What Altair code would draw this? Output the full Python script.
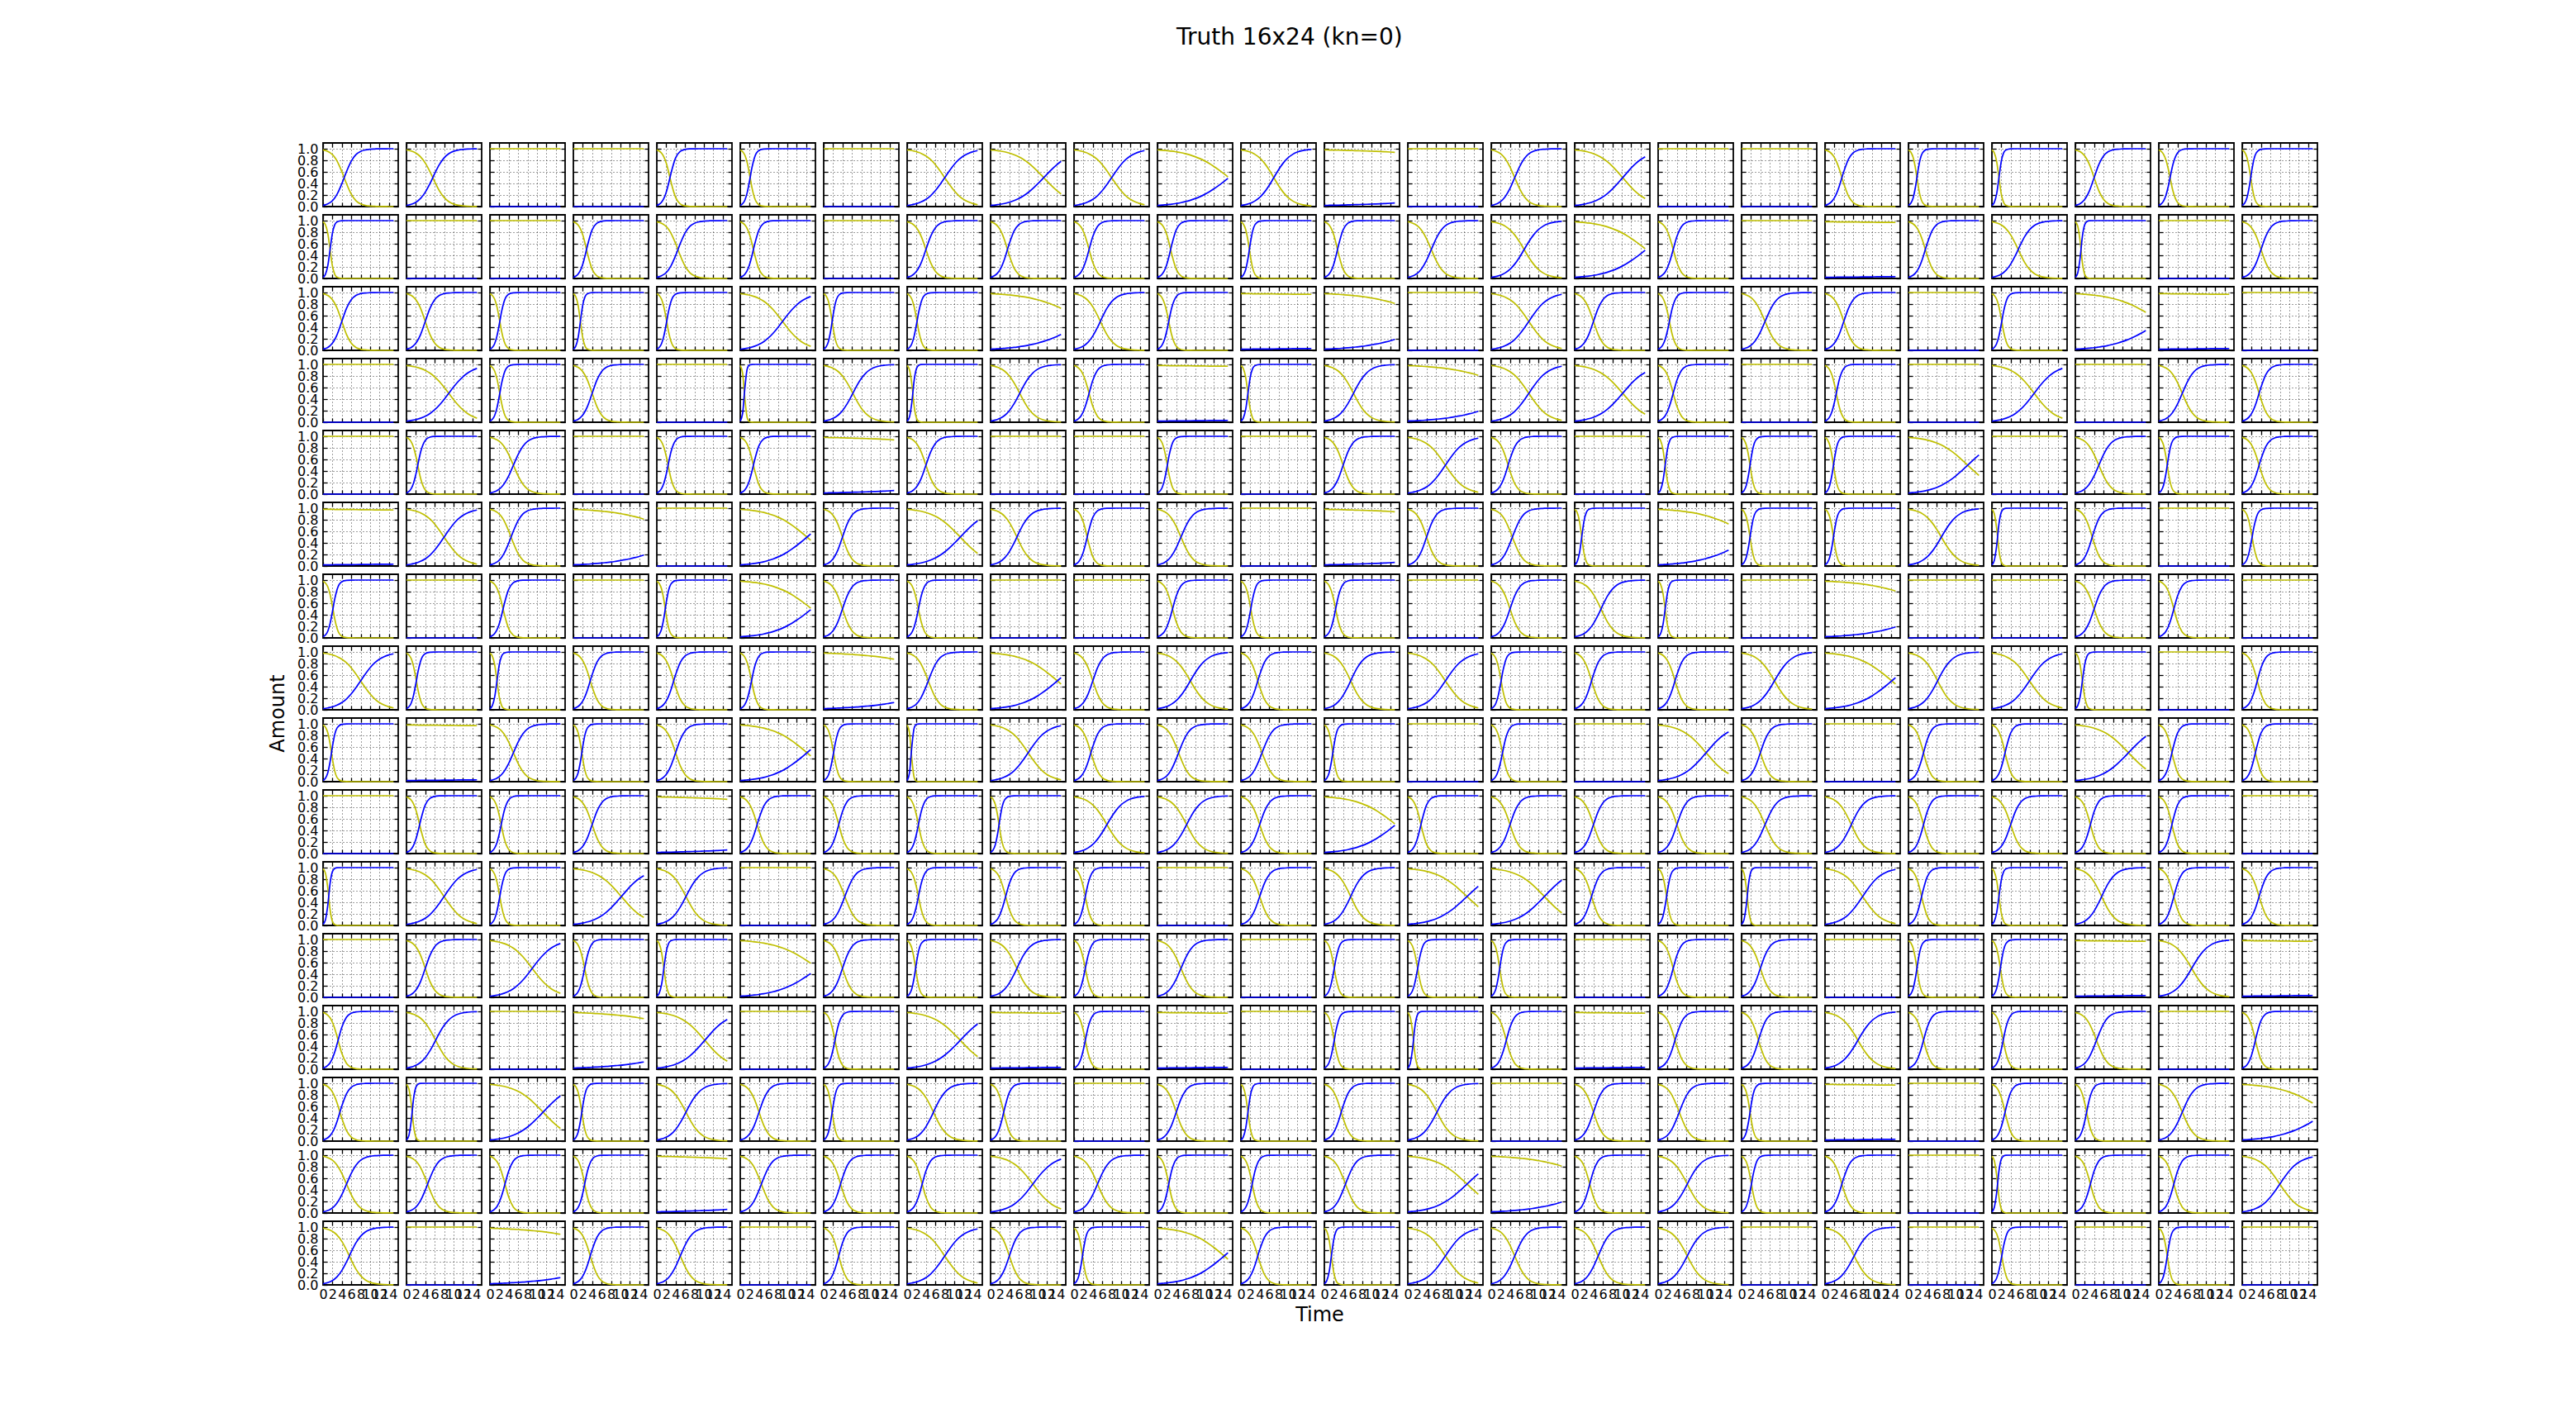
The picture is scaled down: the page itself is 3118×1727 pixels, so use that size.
import altair as alt
import pandas as pd

TITLE = "Truth 16x24 (kn=0)"
X_TITLE = "Time"
Y_TITLE = "Amount"
TIME = [0, 0.5, 1, 1.5, 2, 2.5, 3, 4, 5, 6, 7, 8, 9, 10, 11, 12, 13, 14, 15]
X_TICKS = [0, 2, 4, 6, 8, 10, 12, 14]
Y_TICKS = [0.0, 0.2, 0.4, 0.6, 0.8, 1.0]

# Blue (infected) curves, one per take-off time (time where blue crosses 0.5).
CURVES = {
    0: [0, 0, 0, 0, 0, 0, 0, 0, 0, 0, 0, 0, 0, 0, 0, 0, 0, 0, 0],
    0.9: [0.020, 0.151, 0.606, 0.930, 0.992, 0.999, 1, 1, 1, 1, 1, 1, 1, 1, 1, 1, 1, 1, 1],
    1.2: [0.020, 0.094, 0.343, 0.726, 0.930, 0.986, 0.997, 1, 1, 1, 1, 1, 1, 1, 1, 1, 1, 1, 1],
    1.5: [0.020, 0.069, 0.215, 0.500, 0.785, 0.930, 0.980, 0.999, 1, 1, 1, 1, 1, 1, 1, 1, 1, 1, 1],
    1.8: [0.020, 0.057, 0.151, 0.343, 0.606, 0.820, 0.930, 0.992, 0.999, 1, 1, 1, 1, 1, 1, 1, 1, 1, 1],
    2.1: [0.020, 0.049, 0.115, 0.248, 0.454, 0.677, 0.841, 0.971, 0.995, 0.999, 1, 1, 1, 1, 1, 1, 1, 1, 1],
    2.4: [0.020, 0.044, 0.094, 0.189, 0.343, 0.540, 0.726, 0.930, 0.986, 0.997, 0.999, 1, 1, 1, 1, 1, 1, 1, 1],
    2.8: [0.020, 0.039, 0.076, 0.141, 0.248, 0.397, 0.569, 0.841, 0.955, 0.988, 0.997, 0.999, 1, 1, 1, 1, 1, 1, 1],
    3.2: [0.020, 0.036, 0.065, 0.112, 0.189, 0.299, 0.440, 0.726, 0.899, 0.968, 0.990, 0.997, 0.999, 1, 1, 1, 1, 1, 1],
    3.6: [0.020, 0.034, 0.057, 0.094, 0.151, 0.233, 0.343, 0.606, 0.820, 0.930, 0.975, 0.992, 0.997, 0.999, 1, 1, 1, 1, 1],
    4.0: [0.020, 0.032, 0.051, 0.081, 0.125, 0.189, 0.274, 0.500, 0.726, 0.875, 0.949, 0.980, 0.992, 0.997, 0.999, 1, 1, 1, 1],
    4.5: [0.020, 0.031, 0.046, 0.069, 0.103, 0.151, 0.215, 0.394, 0.606, 0.785, 0.897, 0.954, 0.980, 0.992, 0.996, 0.999, 0.999, 1, 1],
    5.0: [0.020, 0.029, 0.043, 0.062, 0.088, 0.125, 0.174, 0.315, 0.500, 0.685, 0.826, 0.912, 0.957, 0.980, 0.991, 0.996, 0.998, 0.999, 1],
    5.6: [0.020, 0.028, 0.039, 0.055, 0.076, 0.104, 0.141, 0.248, 0.397, 0.569, 0.726, 0.841, 0.914, 0.955, 0.977, 0.988, 0.994, 0.997, 0.999],
    6.2: [0.020, 0.027, 0.037, 0.050, 0.067, 0.089, 0.118, 0.201, 0.320, 0.469, 0.623, 0.756, 0.853, 0.916, 0.953, 0.975, 0.986, 0.993, 0.996],
    7.0: [0.020, 0.026, 0.034, 0.045, 0.058, 0.076, 0.098, 0.159, 0.248, 0.364, 0.500, 0.636, 0.752, 0.841, 0.902, 0.942, 0.966, 0.980, 0.988],
    8.0: [0.020, 0.025, 0.032, 0.041, 0.051, 0.065, 0.081, 0.125, 0.189, 0.274, 0.381, 0.500, 0.619, 0.726, 0.811, 0.875, 0.919, 0.949, 0.968],
    9.0: [0.020, 0.025, 0.031, 0.038, 0.046, 0.057, 0.069, 0.103, 0.151, 0.215, 0.296, 0.394, 0.500, 0.606, 0.704, 0.785, 0.849, 0.897, 0.930],
    10.2: [0.020, 0.024, 0.029, 0.035, 0.042, 0.050, 0.060, 0.086, 0.121, 0.168, 0.228, 0.302, 0.387, 0.481, 0.574, 0.665, 0.744, 0.810, 0.862],
    11.3: [0.020, 0.024, 0.028, 0.033, 0.039, 0.046, 0.054, 0.075, 0.103, 0.139, 0.185, 0.243, 0.312, 0.390, 0.474, 0.560, 0.642, 0.717, 0.782],
    12.6: [0.020, 0.023, 0.027, 0.031, 0.037, 0.042, 0.049, 0.066, 0.087, 0.115, 0.151, 0.195, 0.248, 0.309, 0.379, 0.454, 0.531, 0.606, 0.677],
    14.2: [0.020, 0.023, 0.026, 0.030, 0.034, 0.039, 0.044, 0.058, 0.074, 0.096, 0.122, 0.155, 0.194, 0.240, 0.294, 0.354, 0.418, 0.486, 0.555],
    15.2: [0.020, 0.023, 0.026, 0.029, 0.033, 0.037, 0.042, 0.054, 0.068, 0.087, 0.109, 0.137, 0.170, 0.209, 0.254, 0.306, 0.363, 0.424, 0.487],
    16.5: [0.020, 0.023, 0.025, 0.028, 0.032, 0.036, 0.040, 0.050, 0.062, 0.078, 0.096, 0.119, 0.146, 0.178, 0.215, 0.257, 0.305, 0.357, 0.413],
    18: [0.020, 0.022, 0.025, 0.028, 0.031, 0.034, 0.038, 0.046, 0.057, 0.069, 0.085, 0.103, 0.125, 0.151, 0.180, 0.215, 0.253, 0.296, 0.343],
    20: [0.020, 0.022, 0.024, 0.027, 0.029, 0.032, 0.035, 0.043, 0.051, 0.062, 0.074, 0.088, 0.105, 0.125, 0.148, 0.174, 0.204, 0.237, 0.274],
    24: [0.020, 0.022, 0.023, 0.025, 0.028, 0.030, 0.032, 0.038, 0.044, 0.051, 0.060, 0.069, 0.081, 0.094, 0.108, 0.125, 0.144, 0.165, 0.189],
    30: [0.020, 0.021, 0.023, 0.024, 0.026, 0.028, 0.029, 0.033, 0.038, 0.043, 0.048, 0.055, 0.062, 0.069, 0.078, 0.088, 0.099, 0.112, 0.125],
    50: [0.020, 0.021, 0.022, 0.023, 0.023, 0.024, 0.025, 0.027, 0.029, 0.032, 0.034, 0.037, 0.039, 0.043, 0.046, 0.049, 0.053, 0.057, 0.062],
    120: [0.020, 0.020, 0.021, 0.021, 0.021, 0.022, 0.022, 0.023, 0.024, 0.024, 0.025, 0.026, 0.027, 0.028, 0.029, 0.029, 0.030, 0.031, 0.032],
}

# Which curve each of the 16 x 24 panels shows (0 = no outbreak).
GRID = [
    [4.5, 5.6, 0, 0, 2.8, 2.1, 0, 8.0, 11.3, 8.0, 15.2, 7.0, 50, 0, 5.0, 10.2, 0, 0, 3.6, 1.8, 1.5, 4.0, 2.4, 1.8],
    [1.5, 0, 0, 2.8, 4.5, 2.8, 0, 4.0, 3.6, 3.2, 2.8, 1.8, 2.8, 5.0, 7.0, 15.2, 3.2, 0, 120, 3.6, 5.6, 1.2, 0, 4.0],
    [4.0, 4.0, 2.1, 1.5, 2.1, 9.0, 1.8, 2.1, 20, 5.6, 2.4, 120, 24, 0, 8.0, 4.0, 2.4, 5.0, 4.0, 0, 2.1, 18, 120, 0],
    [0, 9.0, 2.1, 4.0, 0, 0.9, 6.2, 1.2, 6.2, 3.2, 120, 1.5, 6.2, 24, 8.0, 10.2, 3.2, 0, 2.4, 0, 9.0, 0, 5.0, 3.6],
    [0, 2.4, 5.0, 0, 2.4, 2.8, 50, 4.0, 0, 0, 2.1, 0, 4.0, 8.0, 3.6, 0, 1.5, 1.8, 1.8, 12.6, 0, 5.0, 1.8, 3.6],
    [120, 8.0, 4.5, 24, 0, 14.2, 4.0, 11.3, 5.6, 2.8, 5.0, 0, 50, 4.0, 4.5, 1.5, 20, 1.8, 1.8, 7.0, 1.2, 3.6, 0, 2.1],
    [2.1, 0, 2.8, 0, 1.8, 15.2, 4.0, 2.4, 0, 0, 3.2, 2.1, 2.4, 0, 4.0, 5.6, 1.5, 0, 24, 0, 0, 4.0, 3.2, 0],
    [8.0, 2.1, 1.5, 3.6, 3.6, 2.4, 30, 4.5, 14.2, 4.0, 7.0, 3.6, 5.6, 8.0, 2.1, 3.6, 3.6, 7.0, 14.2, 6.2, 8.0, 1.5, 0, 3.2],
    [1.8, 120, 5.0, 1.8, 4.0, 14.2, 2.1, 0.9, 8.0, 3.6, 4.5, 4.5, 1.8, 0, 2.4, 0, 10.2, 4.0, 0, 3.2, 2.8, 11.3, 2.8, 2.8],
    [0, 2.8, 2.4, 4.0, 50, 3.6, 3.2, 2.4, 1.8, 7.0, 6.2, 4.0, 15.2, 2.8, 4.0, 4.0, 4.0, 5.0, 5.6, 3.2, 4.0, 3.2, 2.8, 0],
    [1.2, 8.0, 2.1, 10.2, 6.2, 0, 4.5, 2.4, 3.2, 2.4, 0, 4.0, 5.6, 12.6, 11.3, 3.6, 1.8, 1.2, 8.0, 2.8, 1.5, 5.6, 3.2, 3.6],
    [0, 4.0, 9.0, 2.4, 1.5, 16.5, 4.0, 1.8, 5.6, 2.4, 5.0, 0, 2.1, 2.1, 1.8, 0, 3.2, 4.0, 0, 1.8, 1.8, 120, 7.0, 120],
    [3.2, 6.2, 0, 30, 10.2, 0, 2.4, 11.3, 120, 2.4, 120, 0, 2.1, 1.2, 3.2, 120, 3.6, 3.6, 7.0, 3.2, 2.4, 4.5, 0, 2.8],
    [3.6, 1.2, 11.3, 1.8, 6.2, 4.0, 1.8, 5.6, 2.8, 0, 4.0, 1.5, 3.6, 6.2, 0, 4.0, 4.5, 1.8, 120, 0, 2.8, 2.4, 5.0, 18],
    [5.0, 4.5, 3.2, 2.4, 50, 4.5, 3.6, 3.2, 9.0, 5.0, 2.4, 2.4, 4.5, 12.6, 24, 3.2, 6.2, 2.1, 3.6, 0, 1.2, 3.2, 3.2, 8.0],
    [5.6, 0, 30, 3.6, 5.0, 0, 3.2, 8.0, 4.0, 1.8, 14.2, 3.6, 1.5, 8.0, 5.0, 5.0, 6.2, 0, 6.2, 0, 2.1, 0, 1.8, 0],
]

NROWS, NCOLS = 16, 24
BLUE = "#0000ff"
YELLOW = "#bfbf00"
FONT = "DejaVu Sans"
PW, PH = 91, 77

XS = alt.Scale(domain=[0, 16], nice=False, zero=False)
YS = alt.Scale(domain=[0, 1.1], nice=False, zero=False)

TICKS = dict(tickSize=5, offset=-5, domain=False, tickColor="black", tickWidth=1.3)


def panel(r, c):
    blue = CURVES[GRID[r][c]]
    df = pd.DataFrame({"t": TIME, "I": blue, "S": [round(1 - b, 3) for b in blue]})

    top = alt.Axis(orient="top", values=X_TICKS, labels=False, grid=False, title=None, **TICKS)
    right = alt.Axis(orient="right", values=Y_TICKS, labels=False, grid=False, title=None, **TICKS)

    bkw = dict(orient="bottom", values=X_TICKS, labels=(r == NROWS - 1), grid=True,
               labelFontSize=16, labelPadding=3, labelOverlap=False, labelFlush=False, **TICKS)
    if r == NROWS - 1 and c == 11:
        bkw.update(title=X_TITLE, titleX=95, titleY=41.5, titleFontSize=24, titleFontWeight="normal",
                   titleBaseline="middle", titleAlign="center")
    else:
        bkw.update(title=None)
    bottom = alt.Axis(**bkw)

    lkw = dict(orient="left", values=Y_TICKS, labels=(c == 0), grid=True, format=".1f",
               labelFontSize=16, labelPadding=6, labelOverlap=False, **TICKS)
    if r == 7 and c == 0:
        lkw.update(title=Y_TITLE, titleX=-60, titleY=81, titleFontSize=24, titleFontWeight="normal",
                   titleAngle=270, titleBaseline="middle", titleAlign="center")
    else:
        lkw.update(title=None)
    left = alt.Axis(**lkw)

    yellow = alt.Chart().mark_line(color=YELLOW, strokeWidth=1.7, interpolate="monotone").encode(
        x=alt.X("t:Q", scale=XS, axis=top),
        y=alt.Y("S:Q", scale=YS, axis=right),
    )
    blue_line = alt.Chart().mark_line(color=BLUE, strokeWidth=1.7, interpolate="monotone").encode(
        x=alt.X("t:Q", scale=XS, axis=bottom),
        y=alt.Y("I:Q", scale=YS, axis=left),
    )
    return alt.layer(yellow, blue_line, data=df).resolve_axis(x="independent", y="independent").properties(
        width=PW, height=PH
    )


panels = [panel(r, c) for r in range(NROWS) for c in range(NCOLS)]

chart = alt.concat(
    *panels,
    columns=NCOLS,
    spacing={"row": 10, "column": 10},
    bounds="flush",
    title=alt.TitleParams(TITLE, fontSize=28, font=FONT, fontWeight="normal", color="black",
                          anchor="start", frame="group", offset=111, dx=1033),
).configure_view(
    stroke="black", strokeWidth=1.8, fill="white"
).configure_axis(
    labelFont=FONT, titleFont=FONT, labelColor="black", titleColor="black",
    gridColor="black", gridDash=[1, 3], gridWidth=0.9, gridOpacity=0.85,
).properties(
    padding={"left": 323, "top": 32, "right": 10, "bottom": 10},
    background="white",
)

chart.save("out.html", embed_options={"renderer": "svg", "actions": False})
